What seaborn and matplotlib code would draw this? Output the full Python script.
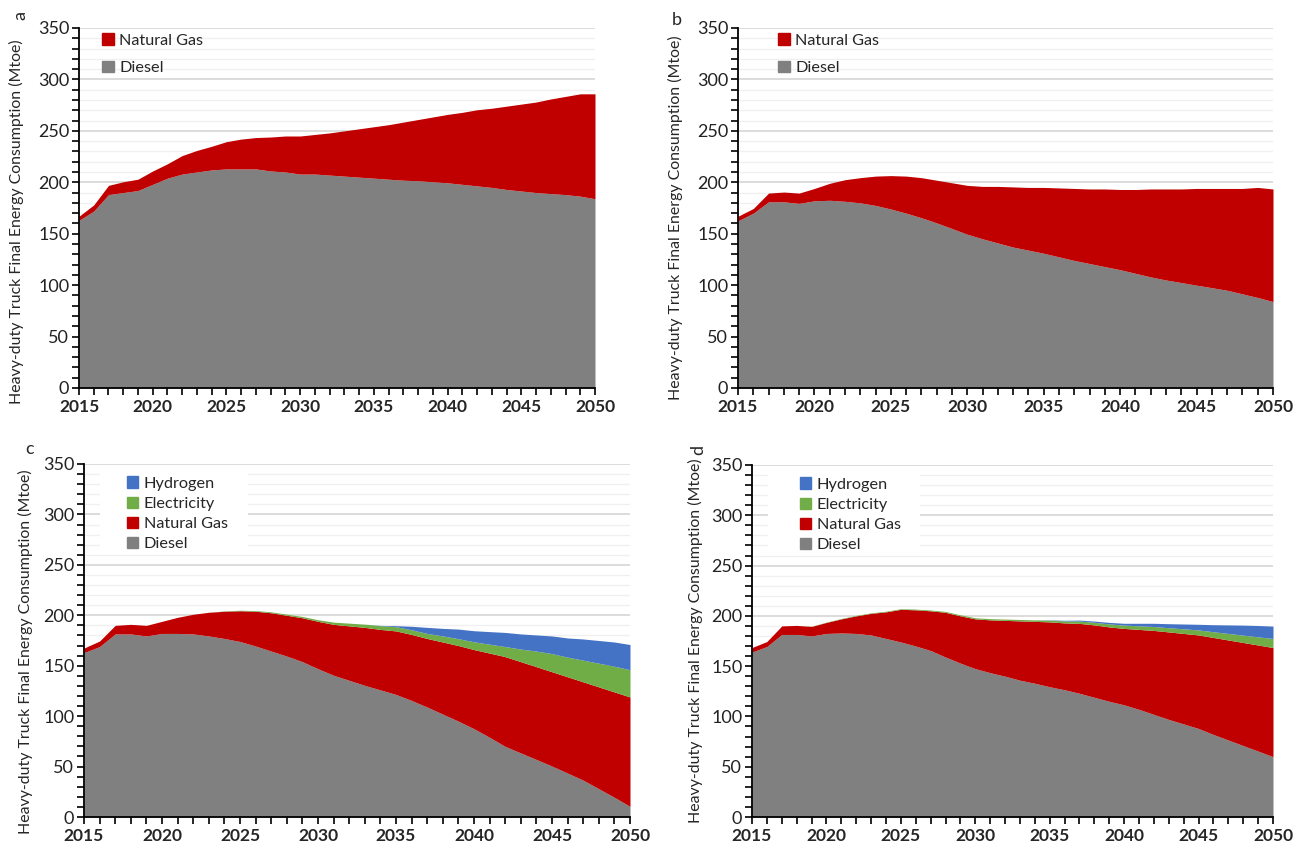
import numpy as np
import matplotlib
matplotlib.use('Agg')
import matplotlib.pyplot as plt
from matplotlib.patches import Patch, Rectangle
from matplotlib.ticker import MultipleLocator
import seaborn as sns

sns.set_style('white')
plt.rcParams['font.family'] = ['Lato', 'DejaVu Sans']

# 연도 (2015 ~ 2050)
years = list(range(2015, 2051))

# a) 디젤 / 천연가스
diesel_a = [163, 172, 188, 190, 192, 198, 204, 208, 210, 212, 213, 213, 213, 211, 210, 208, 208, 207,
            206, 205, 204, 203, 202, 201.5, 200.5, 199.5, 198, 196.5, 195, 193, 191.5, 190, 189, 188, 186.5, 184]
gas_a = [4, 6, 9, 10.5, 11, 13, 14, 18, 21, 23, 26.5, 29, 30.5, 33, 35, 37, 38.5, 41,
         44, 47, 50, 53, 56.5, 59.5, 63, 66.5, 70, 74, 77, 81, 84.5, 88, 92, 95.5, 99.5, 102]

# b)
diesel_b = [162.5, 170, 181, 181, 179.5, 182, 182.5, 181.5, 180, 177.5, 174, 170, 165.5, 160.5, 155, 149.5, 145, 141,
            137, 134, 131, 127.5, 124, 121, 118, 115, 111.5, 108, 105, 102.5, 100, 97.5, 95, 91.5, 88, 84]
gas_b = [4.5, 4.5, 8.5, 9.5, 10, 12, 16.5, 21, 24.5, 28.5, 32.5, 36, 39, 41.5, 44.5, 47.5, 51, 55,
         58.5, 61, 64, 67, 70, 72.5, 75.5, 78, 81.5, 85.5, 88.5, 91, 94, 96.5, 99, 102.5, 107, 109.5]

# c) 수소, 전기 포함
diesel_c = [163, 169, 181.5, 181.5, 179.5, 182, 182, 181.5, 179.5, 177, 174, 169.5, 164.5, 159.5, 154, 147, 140.5, 135.5,
            130.5, 126, 121.5, 115.5, 109, 102, 95, 87.5, 79, 70, 63.5, 57, 50.5, 43.5, 36.5, 28, 19.5, 10.5]
gas_c = [4.5, 5.5, 8.5, 9.5, 10.5, 12, 16, 19.5, 23.5, 27, 30.5, 34.5, 38, 40.5, 43.5, 47, 50.5, 54,
         57.5, 60, 63, 65.5, 68, 71.5, 75, 78.5, 83.5, 89, 90.5, 92, 93.5, 95.5, 97.5, 101, 104.5, 108.5]
elec_c = [0, 0, 0, 0, 0, 0, 0, 0, 0, 0.3, 0.5, 0.7, 0.9, 1.1, 1.3, 1.6, 2.2, 2.7,
          3.2, 3.7, 4.2, 4.6, 5, 6, 6.8, 7.7, 8.8, 10, 12.5, 15.5, 18, 19.5, 21.5, 23.5, 25.5, 27]
h2_c = [0, 0, 0, 0, 0, 0, 0, 0, 0, 0, 0, 0, 0, 0, 0, 0, 0, 0,
        0, 0.3, 1, 3.5, 6, 7.5, 9.5, 11, 12.5, 14, 15, 16, 17.5, 19, 21, 22.5, 24, 25]

# d)
diesel_d = [164, 169.5, 181.5, 181.5, 180, 182.5, 183, 182.5, 181, 177.5, 174, 170, 165.5, 159, 153, 147.5, 143.5, 140,
            136, 133, 129.5, 126.5, 123, 119, 115, 111.5, 107, 102, 97, 92.5, 88, 82, 76.5, 71, 65.5, 60]
gas_d = [4.5, 5, 8.5, 9, 9.5, 11, 14, 17.5, 21.5, 26.5, 32.5, 36, 39.5, 44.5, 47, 49.5, 52.5, 55.5,
         59, 61.5, 64.5, 66.5, 69.5, 72, 74, 76, 79.5, 83.5, 87, 90, 93, 96.5, 99.5, 102.5, 105.5, 108.5]
elec_d = [0, 0, 0, 0, 0.2, 0.3, 0.4, 0.5, 0.5, 0.6, 0.6, 0.7, 0.8, 0.9, 1.0, 1.1, 1.2, 1.3,
          1.4, 1.5, 1.7, 2.0, 2.3, 2.6, 3.0, 3.3, 3.6, 3.9, 4.2, 4.6, 5.0, 5.7, 6.5, 7.3, 8.1, 9.0]
h2_d = [0, 0, 0, 0, 0, 0, 0, 0, 0, 0, 0, 0, 0, 0, 0, 0, 0, 0,
        0, 0, 0.3, 0.6, 1.0, 1.2, 1.5, 1.8, 2.5, 3.2, 4.0, 4.8, 5.6, 7.0, 8.5, 10, 11.3, 12.3]

labels = ['Diesel', 'Natural Gas', 'Electricity', 'Hydrogen']
colors = ['#808080', '#C00000', '#70AD47', '#4472C4']
ylabel = 'Heavy-duty Truck Final Energy Consumption (Mtoe)'

fig = plt.figure(figsize=(13.06, 8.49), dpi=100)
W, H = 1306, 849


def make_ax(x0, y0, x1, y1):
    return fig.add_axes([x0 / W, 1 - y1 / H, (x1 - x0) / W, (y1 - y0) / H])


def draw(ax, series, leg_xy, lab_xy, box=None):
    n = len(series)
    ax.stackplot(years, *series, colors=colors[:n], linewidth=0, zorder=2)
    ax.set_xlim(2015, 2050)
    ax.set_ylim(0, 350)
    ax.yaxis.set_major_locator(MultipleLocator(50))
    ax.yaxis.set_minor_locator(MultipleLocator(10))
    ax.xaxis.set_major_locator(MultipleLocator(5))
    ax.xaxis.set_minor_locator(MultipleLocator(1))
    ax.grid(which='major', axis='y', color='#D9D9D9', lw=1.3, zorder=0)
    ax.grid(which='minor', axis='y', color='#F0F0F0', lw=1.0, zorder=0)
    ax.grid(False, axis='x', which='both')
    ax.set_axisbelow(True)
    for s in ['top', 'right']:
        ax.spines[s].set_visible(False)
    for s in ['left', 'bottom']:
        ax.spines[s].set_color('black')
        ax.spines[s].set_linewidth(1.3)
        ax.spines[s].set_zorder(3)
    ax.tick_params(which='both', direction='out', length=5, width=1.2, color='black', left=True, bottom=True)
    ax.tick_params(axis='y', labelsize=13, pad=2, labelcolor='#222222')
    ax.tick_params(axis='x', labelsize=12.5, pad=3)
    for t in ax.get_xticklabels():
        t.set_fontweight('bold')
    ax.set_ylabel(ylabel, fontsize=11.4)
    ax.yaxis.set_label_coords(*lab_xy)

    # 범례 뒤 흰 상자 (c, d)
    if box is not None:
        ax.add_patch(Rectangle((box[0], box[1]), box[2], box[3], transform=ax.transAxes,
                               facecolor='white', edgecolor='none', zorder=1))
    handles = [Patch(color=colors[i], label=labels[i]) for i in range(n)][::-1]
    spacing = 0.8 if n == 2 else 0.36
    ax.legend(handles=handles, loc='upper left', bbox_to_anchor=leg_xy,
              fontsize=11.7, frameon=False, handlelength=0.7, handleheight=0.7,
              handletextpad=0.35, labelspacing=spacing, borderaxespad=0, borderpad=0)


ax_a = make_ax(79, 28, 595, 388)
draw(ax_a, [diesel_a, gas_a], (0.045, 0.985), (-0.107, 0.4625))
ax_b = make_ax(738, 28, 1273, 388)
draw(ax_b, [diesel_b, gas_b], (0.075, 0.985), (-0.103, 0.472))
ax_c = make_ax(84, 464, 630, 817)
draw(ax_c, [diesel_c, gas_c, elec_c, h2_c], (0.078, 0.965), (-0.094, 0.467),
     box=(0.029, 0.745, 0.272, 0.235))
ax_d = make_ax(752, 465, 1273, 817)
draw(ax_d, [diesel_d, gas_d, elec_d, h2_d], (0.092, 0.965), (-0.095, 0.50),
     box=(0.031, 0.745, 0.292, 0.235))

# 패널 라벨
fig.text(20 / W, 1 - 15 / H, 'a', fontsize=13, rotation=90, ha='center', va='center')
fig.text(677 / W, 1 - 20 / H, 'b', fontsize=13, ha='center', va='center')
fig.text(30 / W, 1 - 449 / H, 'c', fontsize=13, ha='center', va='center')
fig.text(698 / W, 1 - 450 / H, 'd', fontsize=13, rotation=90, ha='center', va='center')

fig.savefig('out.png', dpi=100)
